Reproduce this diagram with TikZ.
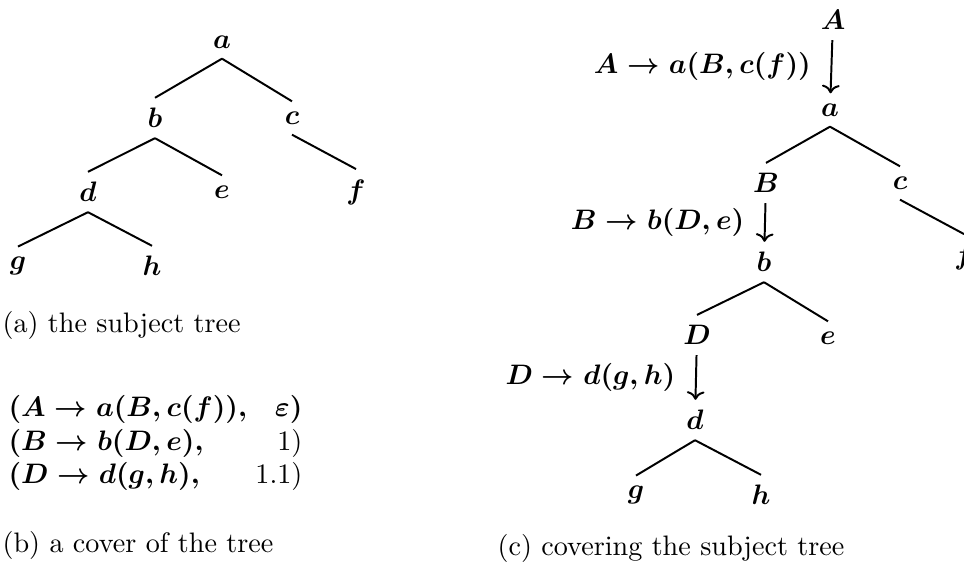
\documentclass[tikz,border=0pt]{standalone}
\usetikzlibrary{arrows.meta}
\begin{document}
\begin{tikzpicture}[x=0.355pt, y=-0.355pt,
    knot/.style={inner sep=3.5pt, font=\boldmath},
    kant/.style={line width=0.7pt},
    pijl/.style={-{To[length=3pt]}, line width=0.7pt},
    regel/.style={left=7pt, inner sep=0pt, font=\boldmath},
    bijschrift/.style={anchor=west, inner sep=0pt}
  ]
  \useasboundingbox (0,0) rectangle (964,578);
  % (a) the subject tree
  \node[knot] (a) at (222,42) {$a$};
  \node[knot] (b) at (155,118) {$b$};
  \node[knot] (c) at (292,118) {$c$};
  \node[knot] (d) at (88,192) {$d$};
  \node[knot] (e) at (222,192) {$e$};
  \node[knot] (f) at (356,192) {$f$};
  \node[knot] (g) at (18,266) {$g$};
  \node[knot] (h) at (152,266) {$h$};
  \draw[kant] (a.south) -- (b.north);
  \draw[kant] (a.south) -- (c.north);
  \draw[kant] (b.south) -- (d.north);
  \draw[kant] (b.south) -- (e.north);
  \draw[kant] (c.south) -- (f.north);
  \draw[kant] (d.south) -- (g.north);
  \draw[kant] (d.south) -- (h.north);
  \node[bijschrift] (capa) at (2,325) {(a) the subject tree};

  % (b) the cover
  \node[anchor=north west, inner sep=0pt, font=\boldmath] (dekking) at (8,392)
    {\begin{tabular}{@{}l@{\hspace{0.3em}}r@{}}
      $(A\rightarrow a(B,c(f)),$ & $\varepsilon)$\\
      $(B\rightarrow b(D,e),$ & \unboldmath$1)$\\
      $(D\rightarrow d(g,h),$ & \unboldmath$1.1)$
    \end{tabular}};
  \node[bijschrift] (capb) at (2,545) {(b) a cover of the tree};

  % (c) covering the subject tree
  \node[knot] (cA) at (833,20) {$A$};
  \node[knot] (ca) at (830,110) {$a$};
  \node[knot] (cB) at (766,183) {$B$};
  \node[knot] (cc) at (900,183) {$c$};
  \node[knot] (cf) at (964,257) {$f$};
  \node[knot] (cb) at (764,262) {$b$};
  \node[knot] (cD) at (697,335) {$D$};
  \node[knot] (ce) at (828,338) {$e$};
  \node[knot] (cd) at (695,420) {$d$};
  \node[knot] (cg) at (636,495) {$g$};
  \node[knot] (ch) at (761,495) {$h$};
  \draw[pijl] (cA) -- node[regel] {$A\rightarrow a(B,c(f))$} (ca);
  \draw[pijl] (cB) -- node[regel] {$B\rightarrow b(D,e)$} (cb);
  \draw[pijl] (cD) -- node[regel] {$D\rightarrow d(g,h)$} (cd);
  \draw[kant] (ca.south) -- (cB.north);
  \draw[kant] (ca.south) -- (cc.north);
  \draw[kant] (cc.south) -- (cf.north);
  \draw[kant] (cb.south) -- (cD.north);
  \draw[kant] (cb.south) -- (ce.north);
  \draw[kant] (cd.south) -- (cg.north);
  \draw[kant] (cd.south) -- (ch.north);
  \node[bijschrift] (capc) at (497,548) {(c) covering the subject tree};
\end{tikzpicture}
\end{document}
